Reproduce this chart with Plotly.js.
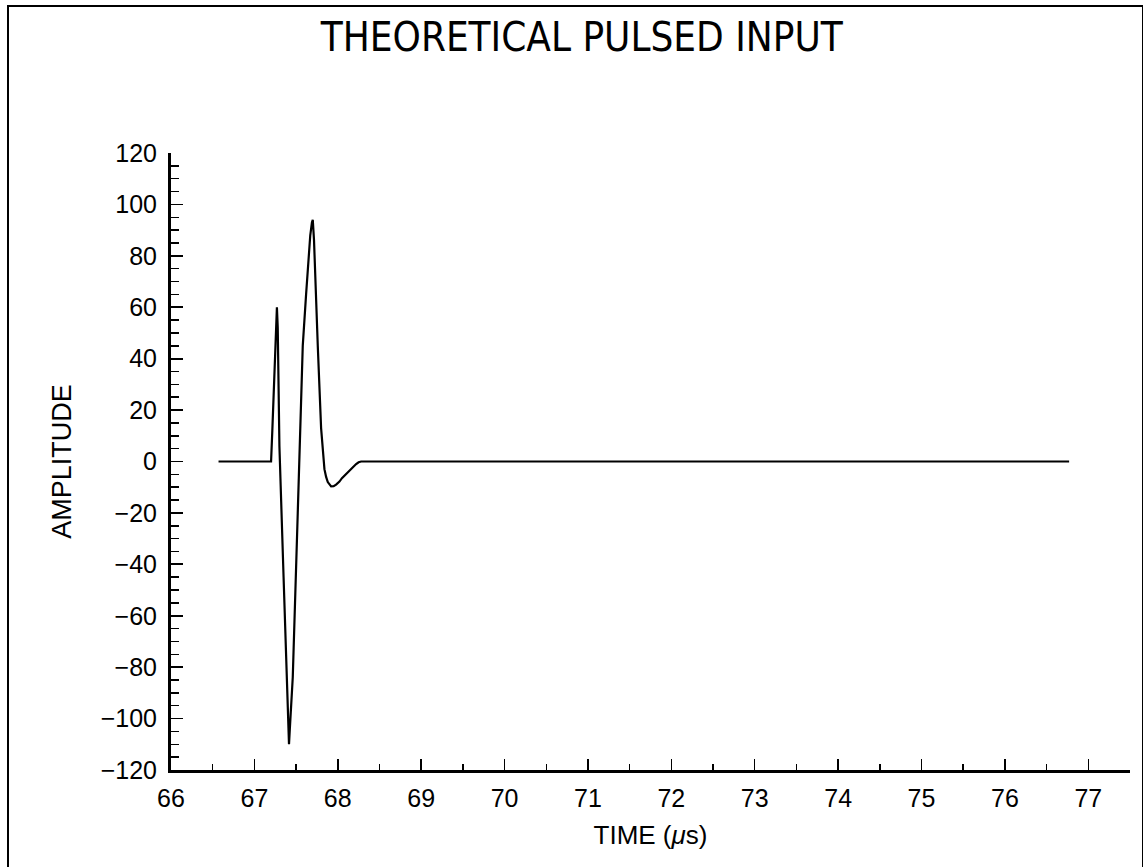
<!DOCTYPE html>
<html>
<head>
<meta charset="utf-8">
<script src="https://cdn.plot.ly/plotly-3.0.1.min.js"></script>
<style>
  html, body { margin: 0; padding: 0; background: #fff; }
  #frame { position: absolute; left: 7px; top: 5px; width: 1133px; height: 870px;
           border-left: 2px solid #000; border-top: 2px solid #000; border-right: 2px solid #000; }
  #chart { position: absolute; left: 0; top: 0; width: 1143px; height: 867px; }
</style>
</head>
<body>
<div id="frame"></div>
<div id="chart"></div>
<script>
// Time (microseconds) and amplitude
const timeUs = [66.57, 67.20, 67.215, 67.23, 67.25, 67.26, 67.27, 67.28, 67.29, 67.30,
                67.35, 67.39, 67.405, 67.415, 67.425, 67.46, 67.52, 67.58, 67.62, 67.65,
                67.67, 67.69, 67.70, 67.715, 67.73, 67.76, 67.80, 67.82, 67.84, 67.86,
                67.88, 67.92, 67.95, 67.98, 68.02, 68.05, 68.10, 68.16, 68.22, 68.25,
                68.28, 76.77];
const amplitude = [0, 0, 12, 26, 41, 50, 60, 52, 30, 6,
                   -45, -91, -104, -110, -104, -84, -20, 45, 65, 79,
                   88, 93, 94, 86, 70, 45, 13, 3, -3, -6,
                   -8, -9.7, -9.6, -9, -7.8, -6.5, -4.8, -3, -1, -0.3,
                   0, 0];

const xTickVals = [66, 67, 68, 69, 70, 71, 72, 73, 74, 75, 76, 77];
const yTickVals = [-120, -100, -80, -60, -40, -20, 0, 20, 40, 60, 80, 100, 120];
const yTickText = ['\u2212120', '\u2212100', '\u221280', '\u221260', '\u221240', '\u221220', '0', '20', '40', '60', '80', '100', '120'];

const trace = {
  x: timeUs, y: amplitude, type: 'scatter', mode: 'lines',
  line: { color: '#000', width: 2.2, shape: 'linear' },
  hoverinfo: 'skip'
};

const fontFam = '"Liberation Sans", Arial, Helvetica, sans-serif';

const layout = {
  width: 1143, height: 867,
  paper_bgcolor: 'rgba(0,0,0,0)', plot_bgcolor: 'rgba(0,0,0,0)',
  margin: { l: 171, r: 13, t: 153, b: 97 },
  showlegend: false,
  title: {
    text: 'THEORETICAL PULSED INPUT',
    font: { family: '"Liberation Sans Narrow", "Arial Narrow", "DejaVu Sans Condensed", sans-serif', size: 40, color: '#000' },
    x: 0.509, xref: 'container', xanchor: 'center',
    y: 1 - 37 / 867, yref: 'container', yanchor: 'middle'
  },
  xaxis: {
    range: [66, 77.5], autorange: false,
    tickmode: 'array', tickvals: xTickVals,
    ticks: 'inside', ticklen: 11, tickwidth: 1.5, tickcolor: '#000',
    minor: { dtick: 0.5, tick0: 66, ticks: 'inside', ticklen: 6, tickwidth: 1.5, tickcolor: '#000' },
    showline: true, linecolor: '#000', linewidth: 2.5,
    showgrid: false, zeroline: false,
    tickfont: { family: fontFam, size: 25, color: '#000' },
    ticklabelstandoff: 4,
    title: { text: 'TIME (<i>\u03bc</i>s)', font: { family: fontFam, size: 26, color: '#000' }, standoff: 16 }
  },
  yaxis: {
    range: [-120, 120], autorange: false,
    tickmode: 'array', tickvals: yTickVals, ticktext: yTickText,
    ticks: 'inside', ticklen: 12, tickwidth: 1.8, tickcolor: '#000',
    minor: { dtick: 5, tick0: 0, ticks: 'inside', ticklen: 8, tickwidth: 1.5, tickcolor: '#000' },
    showline: true, linecolor: '#000', linewidth: 3,
    showgrid: false, zeroline: false,
    tickfont: { family: fontFam, size: 25, color: '#000' },
    ticklabelstandoff: 6,
    title: { text: 'AMPLITUDE', font: { family: fontFam, size: 27, color: '#000' }, standoff: 22 }
  }
};

Plotly.newPlot('chart', [trace], layout, { staticPlot: true, displayModeBar: false });
</script>
</body>
</html>
